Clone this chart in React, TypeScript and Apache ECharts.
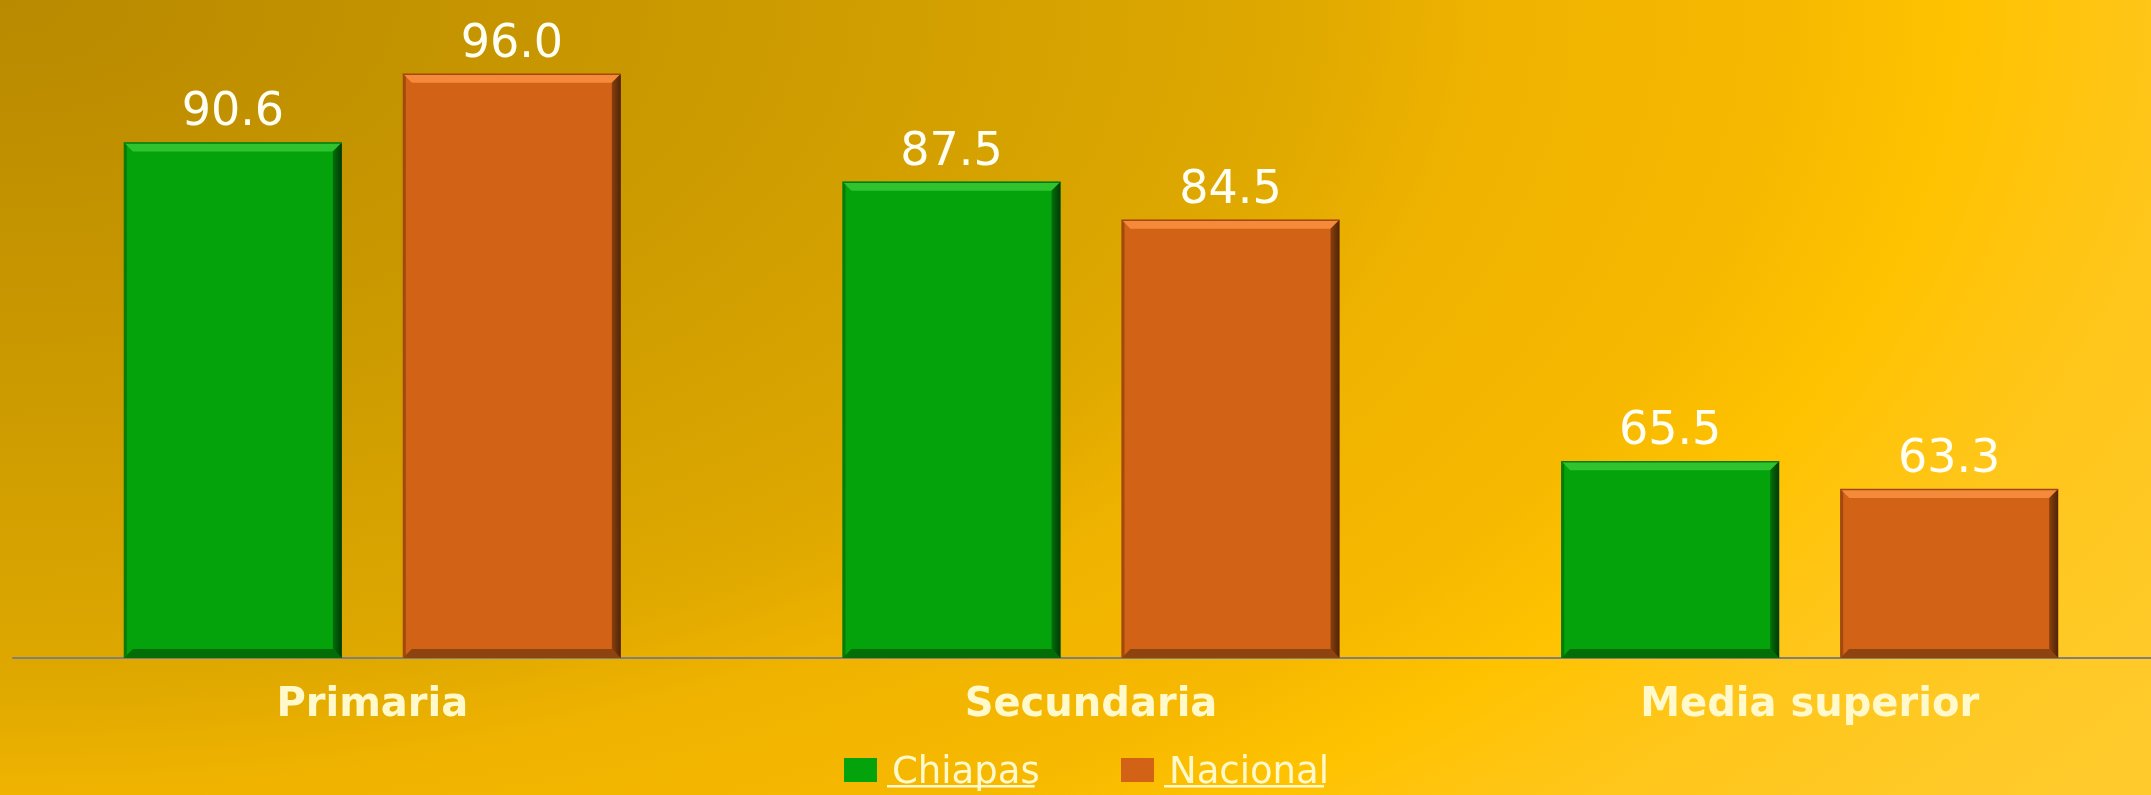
import React, { useEffect, useRef } from "react";
import * as echarts from "echarts";

const categories = ["Primaria", "Secundaria", "Media superior"];
const chiapasValues = [90.6, 87.5, 65.5];
const nacionalValues = [96.0, 84.5, 63.3];
const seriesNames = ["Chiapas", "Nacional"];

const CREAM = "#FFF9CC";
const FONT = '"DejaVu Sans", "Liberation Sans", sans-serif';
const Y_MIN = 50;
const Y_MAX = 100;
const BAR_W = 218;
const BAR_GAP = 61;

const BAR_COLORS = [
  { main: "#04A20B", light: "#2FC42F", edgeLine: "#0A7A0A", right: "#013A04", rightIn: "#02700A", bottom: "#036E07" },
  { main: "#D26216", light: "#F58A3A", edgeLine: "#A04A10", right: "#4E2406", rightIn: "#8A3F0E", bottom: "#8E4410" },
];

export default function App() {
  const ref = useRef<HTMLDivElement>(null);

  useEffect(() => {
    if (!ref.current) return;
    const chart = echarts.init(ref.current, null, { renderer: "svg" });

    const legendLeft = 839;
    const iconW = 33;
    const textPad = 10;
    const legendFontSize = 37;
    const item2Target = 1116;

    const canvas = document.createElement("canvas");
    const ctx = canvas.getContext("2d");
    let w1 = 148;
    let w2 = 160;
    if (ctx) {
      ctx.font = `${legendFontSize}px "DejaVu Sans"`;
      w1 = ctx.measureText(seriesNames[0]).width;
      w2 = ctx.measureText(seriesNames[1]).width;
    }
    const t1x = legendLeft + iconW + 5 + textPad;
    const itemGap = Math.max(10, item2Target - (t1x + w1));
    const item2x = t1x + w1 + itemGap;
    const t2x = item2x + iconW + 5 + textPad;

    const valueLabel = {
      show: true,
      position: "top" as const,
      distance: 10,
      color: "#FFFFF4",
      fontFamily: FONT,
      fontSize: 46,
      formatter: (p: any) => Number(p.value).toFixed(1),
    };

    const bevelData: number[][] = [];
    chiapasValues.forEach((v, i) => bevelData.push([i, v, 0]));
    nacionalValues.forEach((v, i) => bevelData.push([i, v, 1]));

    const renderBevel = (params: any, api: any) => {
      const ci = api.value(0);
      const v = api.value(1);
      const s = api.value(2);
      const c = BAR_COLORS[s];
      const topPt = api.coord([ci, v]);
      const basePt = api.coord([ci, Y_MIN]);
      const cx = topPt[0] + (s === 0 ? -(BAR_W + BAR_GAP) / 2 : (BAR_W + BAR_GAP) / 2);
      const x0 = cx - BAR_W / 2;
      const x1 = cx + BAR_W / 2;
      const y0 = topPt[1];
      const y1 = basePt[1];
      const b = 9;
      return {
        type: "group",
        children: [
          {
            type: "polygon",
            shape: { points: [[x0, y0], [x1, y0], [x1 - b, y0 + b], [x0 + b, y0 + b]] },
            style: { fill: c.light },
          },
          {
            type: "polygon",
            shape: { points: [[x0, y1], [x1, y1], [x1 - b, y1 - b], [x0 + b, y1 - b]] },
            style: { fill: c.bottom },
          },
          {
            type: "polygon",
            shape: { points: [[x1, y0], [x1, y1], [x1 - b, y1 - b], [x1 - b, y0 + b]] },
            style: {
              fill: new echarts.graphic.LinearGradient(0, 0, 1, 0, [
                { offset: 0, color: c.rightIn },
                { offset: 1, color: c.right },
              ]),
            },
          },
          {
            type: "polygon",
            shape: { points: [[x0, y0], [x0, y1], [x0 + 3, y1 - 3], [x0 + 3, y0 + 3]] },
            style: { fill: c.edgeLine },
          },
          {
            type: "line",
            shape: { x1: x0, y1: y0 + 0.5, x2: x1, y2: y0 + 0.5 },
            style: { stroke: c.edgeLine, lineWidth: 1.5 },
          },
        ],
      };
    };

    chart.setOption({
      animation: false,
      backgroundColor: "transparent",
      grid: {
        left: 13,
        top: 23,
        width: 2156,
        height: 635,
        containLabel: false,
        outerBoundsMode: "none",
      },
      legend: {
        left: legendLeft,
        top: 745,
        itemWidth: iconW,
        itemHeight: 24,
        itemGap: itemGap,
        icon: "rect",
        data: seriesNames,
        textStyle: {
          color: CREAM,
          fontFamily: FONT,
          fontSize: legendFontSize,
          lineHeight: 40,
          padding: [0, 0, 0, textPad],
        },
      },
      xAxis: {
        type: "category",
        data: categories,
        axisLine: { show: true, lineStyle: { color: "#7F7F7F", width: 2 } },
        axisTick: { show: false },
        axisLabel: {
          color: CREAM,
          fontFamily: FONT,
          fontWeight: "bold",
          fontSize: 40,
          lineHeight: 40,
          margin: 24,
        },
      },
      yAxis: {
        type: "value",
        min: Y_MIN,
        max: Y_MAX,
        show: false,
        splitLine: { show: false },
      },
      series: [
        {
          name: seriesNames[0],
          type: "bar",
          data: chiapasValues,
          barWidth: BAR_W,
          barGap: `${(BAR_GAP / BAR_W) * 100}%`,
          itemStyle: { color: BAR_COLORS[0].main },
          label: valueLabel,
        },
        {
          name: seriesNames[1],
          type: "bar",
          data: nacionalValues,
          barWidth: BAR_W,
          barGap: `${(BAR_GAP / BAR_W) * 100}%`,
          itemStyle: { color: BAR_COLORS[1].main },
          label: valueLabel,
        },
        {
          name: "bevel",
          type: "custom",
          silent: true,
          z: 3,
          data: bevelData,
          renderItem: renderBevel,
          tooltip: { show: false },
        },
      ],
      graphic: [
        {
          type: "rect",
          silent: true,
          shape: { x: t1x, y: 785, width: w1, height: 2.5 },
          style: { fill: CREAM },
        },
        {
          type: "rect",
          silent: true,
          shape: { x: t2x, y: 785, width: w2, height: 2.5 },
          style: { fill: CREAM },
        },
      ],
    });

    return () => chart.dispose();
  }, []);

  return (
    <div
      ref={ref}
      style={{
        position: "fixed",
        left: 0,
        top: 0,
        width: 2151,
        height: 795,
        background:
          "radial-gradient(1500px 795px at 0 0, #B98900 0%, #CC9B00 50%, #DEA800 85%, #F0B300 100%, #F6B800 118%, #FFC200 130%, #FFC61A 145%, #FFCB2C 170%)",
      }}
    />
  );
}
